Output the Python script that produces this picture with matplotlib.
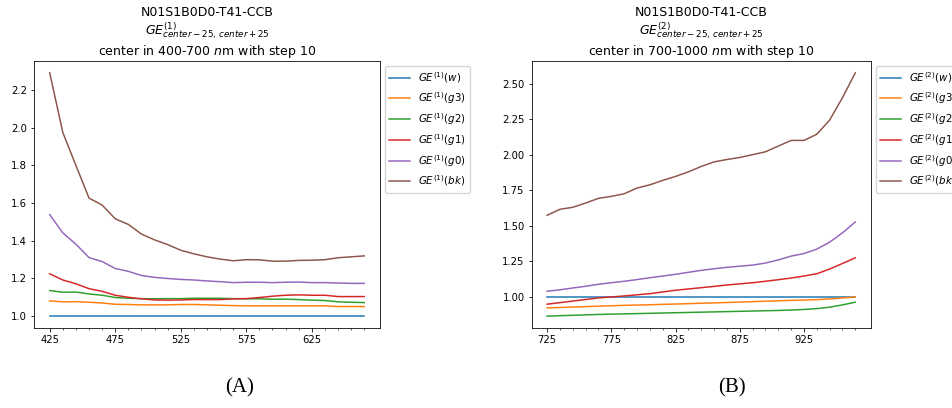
import numpy as np
import matplotlib
matplotlib.use("Agg")
import matplotlib.pyplot as plt
from matplotlib.ticker import FixedLocator, FormatStrFormatter

# ---- data ----
x_left = list(range(425, 666, 10))
x_right = list(range(725, 966, 10))

left_w = [1.0] * 25
left_g3 = [1.081, 1.076, 1.077, 1.074, 1.070, 1.063, 1.062, 1.060, 1.060, 1.060, 1.062, 1.062, 1.060,
           1.058, 1.056, 1.055, 1.055, 1.055, 1.055, 1.055, 1.055, 1.055, 1.051, 1.051, 1.051]
left_g2 = [1.136, 1.127, 1.128, 1.118, 1.111, 1.099, 1.095, 1.093, 1.092, 1.093, 1.093, 1.095, 1.095,
           1.095, 1.093, 1.092, 1.092, 1.090, 1.090, 1.088, 1.085, 1.083, 1.076, 1.074, 1.072]
left_g1 = [1.225, 1.192, 1.172, 1.146, 1.132, 1.111, 1.100, 1.092, 1.086, 1.085, 1.086, 1.088, 1.088,
           1.088, 1.092, 1.093, 1.099, 1.106, 1.111, 1.113, 1.111, 1.111, 1.104, 1.104, 1.104]
left_g0 = [1.539, 1.442, 1.382, 1.311, 1.290, 1.253, 1.238, 1.216, 1.206, 1.200, 1.195, 1.192, 1.187,
           1.183, 1.178, 1.180, 1.180, 1.178, 1.180, 1.181, 1.178, 1.178, 1.176, 1.174, 1.174]
left_bk = [2.292, 1.975, 1.800, 1.627, 1.590, 1.517, 1.487, 1.436, 1.405, 1.380, 1.350, 1.331, 1.315,
           1.303, 1.294, 1.300, 1.299, 1.292, 1.292, 1.296, 1.297, 1.300, 1.310, 1.315, 1.320]

right_w = [1.0] * 25
right_g3 = [0.923, 0.926, 0.929, 0.932, 0.935, 0.938, 0.941, 0.943, 0.945, 0.948, 0.950, 0.953, 0.956,
            0.958, 0.961, 0.964, 0.967, 0.970, 0.973, 0.976, 0.978, 0.981, 0.986, 0.993, 1.000]
right_g2 = [0.865, 0.868, 0.871, 0.874, 0.877, 0.879, 0.881, 0.883, 0.885, 0.887, 0.889, 0.891, 0.893,
            0.895, 0.897, 0.899, 0.901, 0.903, 0.905, 0.908, 0.912, 0.918, 0.928, 0.944, 0.963]
right_g1 = [0.949, 0.960, 0.971, 0.982, 0.993, 1.000, 1.007, 1.015, 1.023, 1.035, 1.047, 1.056, 1.065,
            1.074, 1.084, 1.092, 1.100, 1.110, 1.121, 1.133, 1.147, 1.163, 1.196, 1.235, 1.275]
right_g0 = [1.040, 1.050, 1.063, 1.075, 1.089, 1.100, 1.110, 1.122, 1.135, 1.147, 1.159, 1.173, 1.187,
            1.198, 1.208, 1.216, 1.224, 1.238, 1.260, 1.287, 1.305, 1.336, 1.385, 1.450, 1.527]
right_bk = [1.574, 1.616, 1.630, 1.660, 1.693, 1.707, 1.725, 1.765, 1.788, 1.819, 1.847, 1.879, 1.917,
            1.949, 1.966, 1.980, 2.000, 2.020, 2.060, 2.100, 2.100, 2.143, 2.243, 2.400, 2.575]

keys = ["w", "g3", "g2", "g1", "g0", "bk"]
colors = ["#1f77b4", "#ff7f0e", "#2ca02c", "#d62728", "#9467bd", "#8c564b"]

S = 0.72
plt.rcParams.update({
    "font.size": 10 * S,
    "axes.linewidth": 0.8 * S,
    "xtick.major.width": 0.8 * S, "ytick.major.width": 0.8 * S,
    "xtick.minor.width": 0.6 * S,
    "xtick.major.size": 3.5 * S, "ytick.major.size": 3.5 * S,
    "xtick.minor.size": 2 * S,
    "xtick.major.pad": 3.5 * S, "ytick.major.pad": 3.5 * S,
})

fig = plt.figure(figsize=(9.52, 4.08), dpi=100)
axL = fig.add_axes([0.0357, 0.1953, 0.3634, 0.656])
axR = fig.add_axes([0.5585, 0.1953, 0.3561, 0.656])

def draw(ax, x, series, sup, rng, major_start):
    for k, c, y in zip(keys, colors, series):
        ax.plot(x, y, color=c, lw=1.5 * S, label=r"$GE^{(%d)}(%s)$" % (sup, k))
    ax.set_title("N01S1B0D0-T41-CCB\n" + r"$GE^{(%d)}_{center-25,\,center+25}$" % sup + "\n"
                 + "center in %s $n$m with step 10" % rng, fontsize=12.5 * S, pad=6 * S,
                 linespacing=1.1)
    ax.xaxis.set_major_locator(FixedLocator([major_start + 50 * i for i in range(5)]))
    ax.xaxis.set_minor_locator(FixedLocator(x))
    ax.tick_params(labelsize=10 * S)
    ax.legend(loc="upper left", bbox_to_anchor=(1.0, 1.0), fontsize=10.3 * S)

draw(axL, x_left, [left_w, left_g3, left_g2, left_g1, left_g0, left_bk], 1, "400-700", 425)
draw(axR, x_right, [right_w, right_g3, right_g2, right_g1, right_g0, right_bk], 2, "700-1000", 725)
axR.yaxis.set_major_formatter(FormatStrFormatter("%.2f"))

fig.text(0.252, 0.049, "(A)", family="Liberation Serif", fontsize=15, ha="center", va="center")
fig.text(0.769, 0.049, "(B)", family="Liberation Serif", fontsize=15, ha="center", va="center")

fig.savefig("out.png", dpi=100)
